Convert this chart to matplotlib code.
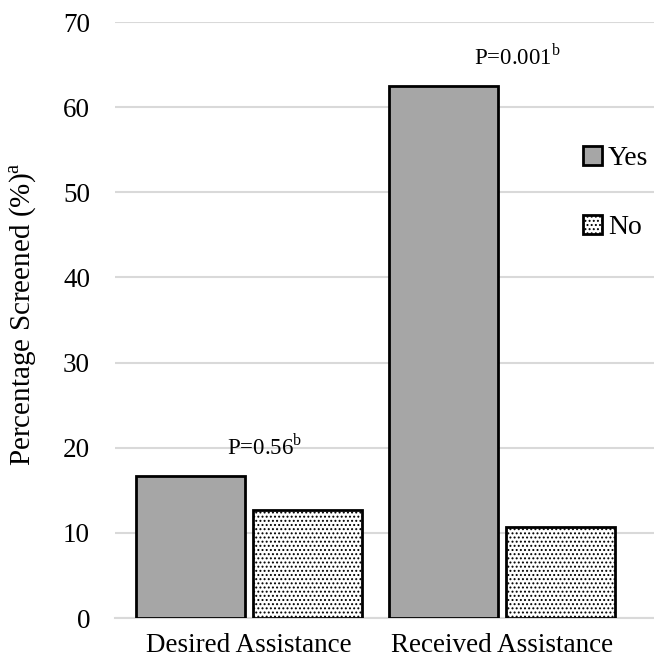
import numpy as np
import matplotlib
matplotlib.use("Agg")
import matplotlib.pyplot as plt

categories = ['Desired Assistance', 'Received Assistance']
yes_vals = [16.7, 62.5]
no_vals = [12.7, 10.7]
p_labels = ['P=0.56', 'P=0.001']
y_ticks = [0, 10, 20, 30, 40, 50, 60, 70]

plt.rcParams['font.family'] = ['Liberation Serif', 'DejaVu Serif']
plt.rcParams['mathtext.fontset'] = 'custom'
plt.rcParams['mathtext.rm'] = 'Liberation Serif'
plt.rcParams['hatch.linewidth'] = 0.9

fig = plt.figure(figsize=(6.54, 6.61), dpi=100)
ax = fig.add_axes([115 / 654, 43 / 661, 539 / 654, 596 / 661])

x = np.arange(len(categories))
w = 0.431
gap = 0.016
ax.bar(x - w / 2 - gap, yes_vals, w, color='#a6a6a6', edgecolor='black',
       linewidth=2, label='Yes', zorder=3)
ax.bar(x + w / 2 + gap, no_vals, w, color='white', edgecolor='black',
       linewidth=2, hatch='....', label='No', zorder=3)

for i, lab in enumerate(p_labels):
    top = max(yes_vals[i], no_vals[i])
    ax.text(x[i] + 0.06, top + 1.9, lab + r'$^{\mathrm{b}}$', ha='center',
            va='bottom', fontsize=16.5)

ax.set_xlim(-0.53, 1.6)
ax.set_ylim(0, 70)
ax.set_yticks(y_ticks)
ax.set_xticks(x)
ax.set_xticklabels(categories, fontsize=19.5)
ax.tick_params(axis='y', labelsize=19.5, length=0, pad=18)
ax.tick_params(axis='x', length=0, pad=11)
ax.grid(axis='y', color='#d9d9d9', linewidth=1.5, zorder=0)
for s in ['top', 'right', 'left']:
    ax.spines[s].set_visible(False)
ax.spines['bottom'].set_color('#d9d9d9')
ax.spines['bottom'].set_linewidth(1.5)
ax.set_ylabel(r'Percentage Screened (%)$^{\mathrm{a}}$', fontsize=21)
ax.yaxis.set_label_coords(-0.141, 0.51)

leg = ax.legend(loc='upper left', bbox_to_anchor=(583 / 654, 1 - 146 / 661),
                bbox_transform=fig.transFigure, frameon=False, fontsize=20,
                handlelength=0.7, handleheight=0.7, handletextpad=0.2,
                labelspacing=1.55, borderaxespad=0, borderpad=0)

fig.savefig('out.png', dpi=100)
